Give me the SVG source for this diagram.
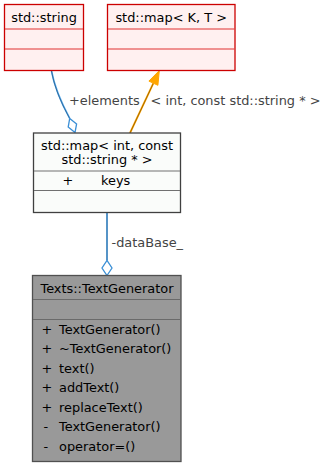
<svg xmlns="http://www.w3.org/2000/svg" width="327" height="467" viewBox="0 0 327 467">
  <style>
    text { font-family: "DejaVu Sans", "Liberation Sans", sans-serif; font-size: 12.9px; fill: #000; }
    .mid { text-anchor: middle; }
    .elabel { fill: #444; }
    .ext { fill: #FFF0F0; stroke: #cc0000; stroke-width: 1.3; }
    .extdiv { stroke: #e03030; stroke-width: 1; fill: none; }
    .plain { fill: #fafcfa; stroke: #404040; stroke-width: 1.3; }
    .plaindiv { stroke: #707070; stroke-width: 1; fill: none; }
    .cur { fill: #999999; stroke: #505050; stroke-width: 1.3; }
    .curdiv { stroke: #6a6a6a; stroke-width: 1; fill: none; }
    .useOuter { stroke: #5aaef0; stroke-width: 1.7; fill: none; }
    .useInner { stroke: #1f4f7a; stroke-width: 0.7; fill: none; }
    .tmplOuter { stroke: #ffa500; stroke-width: 1.8; fill: none; }
    .tmplInner { stroke: #6b4500; stroke-width: 0.6; fill: none; }
  </style>

  <!-- connectors -->
  <g id="edges">
    <!-- std::string used as elements of the map -->
    <path class="useOuter" d="M51.5,71 C55,90 63,106 69.7,118.4"/>
    <path class="useInner" d="M51.5,71 C55,90 63,106 69.7,118.4"/>
    <polygon points="75,132.6 76.6,123.9 69.7,118.4 68.2,127.1" fill="#fff" stroke="#3b8fd6" stroke-width="1.3"/>
    <text class="elabel" x="69" y="104.5">+elements</text>

    <!-- template instantiation -->
    <path class="tmplOuter" d="M130,133 L153.4,83.2"/>
    <path class="tmplInner" d="M130,133 L153.4,83.2"/>
    <polygon points="159.3,70.6 157.9,85.3 148.9,81.1" fill="#ffa500" stroke="#ffa500" stroke-width="1"/>
    <text class="elabel" x="150.5" y="104.5">&lt; int, const std::string * &gt;</text>

    <!-- map used as dataBase_ member -->
    <path class="useOuter" d="M107,213 L107,260.5"/>
    <path class="useInner" d="M107,213 L107,260.5"/>
    <polygon points="107,275.5 112,268 107,260.5 102,268" fill="#fff" stroke="#3b8fd6" stroke-width="1.3"/>
    <text class="elabel" x="111.5" y="247">-dataBase_</text>
  </g>

  <!-- std::string -->
  <g id="node_std_string">
    <rect class="ext" x="4.5" y="4.5" width="79" height="66"/>
    <line class="extdiv" x1="5" y1="29" x2="83" y2="29"/>
    <line class="extdiv" x1="5" y1="49" x2="83" y2="49"/>
    <text class="mid" x="44" y="21.5">std::string</text>
  </g>

  <!-- std::map< K, T > -->
  <g id="node_std_map_template">
    <rect class="ext" x="107.5" y="4.5" width="127.5" height="66"/>
    <line class="extdiv" x1="108" y1="29" x2="234.5" y2="29"/>
    <line class="extdiv" x1="108" y1="49" x2="234.5" y2="49"/>
    <text class="mid" x="171.2" y="21.5">std::map&lt; K, T &gt;</text>
  </g>

  <!-- std::map< int, const std::string * > -->
  <g id="node_std_map_instance">
    <rect class="plain" x="33.5" y="133" width="147" height="79.5"/>
    <line class="plaindiv" x1="34" y1="171" x2="180" y2="171"/>
    <line class="plaindiv" x1="34" y1="190.5" x2="180" y2="190.5"/>
    <text class="mid" x="107" y="149.5">std::map&lt; int, const</text>
    <text class="mid" x="107" y="163.5">std::string * &gt;</text>
    <text x="62.5" y="184.5">+</text>
    <text x="101" y="184.5">keys</text>
  </g>

  <!-- Texts::TextGenerator -->
  <g id="node_TextGenerator">
    <rect class="cur" x="32.5" y="275.5" width="148.5" height="186"/>
    <line class="curdiv" x1="33" y1="299.5" x2="180.5" y2="299.5"/>
    <line class="curdiv" x1="33" y1="319.5" x2="180.5" y2="319.5"/>
    <text class="mid" x="107" y="292.5">Texts::TextGenerator</text>
    <text x="41.5" y="333.5">+</text><text x="59" y="333.5">TextGenerator()</text>
    <text x="41.5" y="353">+</text><text x="59" y="353">~TextGenerator()</text>
    <text x="41.5" y="372.5">+</text><text x="59" y="372.5">text()</text>
    <text x="41.5" y="392">+</text><text x="59" y="392">addText()</text>
    <text x="41.5" y="411.5">+</text><text x="59" y="411.5">replaceText()</text>
    <text x="43.5" y="431">-</text><text x="59" y="431">TextGenerator()</text>
    <text x="43.5" y="450.5">-</text><text x="59" y="450.5">operator=()</text>
  </g>
</svg>
